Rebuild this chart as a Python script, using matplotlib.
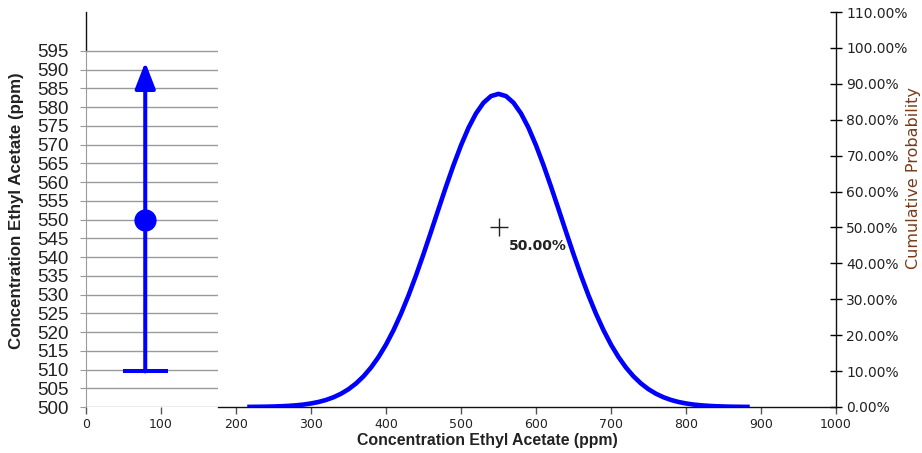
import matplotlib
matplotlib.use("Agg")
import matplotlib.pyplot as plt
from matplotlib.ticker import FuncFormatter

# density curve (x in ppm, y on the right % axis)
curve_x = [215, 220, 230, 240, 250, 260, 270, 280, 290, 300, 310, 320, 330, 340,
           350, 360, 370, 380, 390, 400, 410, 420, 430, 440, 450, 460, 470, 480,
           490, 500, 510, 520, 530, 540, 550, 560, 570, 580, 590, 600, 610, 620,
           630, 640, 650, 660, 670, 680, 690, 700, 710, 720, 730, 740, 750, 760,
           770, 780, 790, 800, 810, 820, 830, 840, 850, 860, 870, 880, 885]
curve_y = [0.03, 0.04, 0.06, 0.09, 0.14, 0.21, 0.32, 0.47, 0.68, 0.99, 1.40, 1.96, 2.71, 3.69,
           4.95, 6.55, 8.54, 10.98, 13.91, 17.37, 21.39, 25.96, 31.06, 36.63, 42.58, 48.80, 55.12, 61.37,
           67.34, 72.87, 77.75, 81.75, 84.73, 86.58, 87.20, 86.58, 84.73, 81.75, 77.75, 72.87, 67.34, 61.37,
           55.12, 48.80, 42.58, 36.63, 31.06, 25.96, 21.39, 17.37, 13.91, 10.98, 8.54, 6.55, 4.95, 3.69,
           2.71, 1.96, 1.40, 0.99, 0.68, 0.47, 0.32, 0.21, 0.14, 0.09, 0.06, 0.04, 0.03]

# summary on the left panel (ppm)
stat_mean = 550
stat_low = 509.5
stat_high = 592

# median marker
median_ppm = 550
median_pct = 50
median_label = "50.00%"

x_ticks = list(range(0, 1001, 100))
pct_ticks = list(range(0, 111, 10))
ppm_ticks = list(range(500, 596, 5))

XLABEL = "Concentration Ethyl Acetate (ppm)"
YLABEL = "Concentration Ethyl Acetate (ppm)"
Y2LABEL = "Cumulative Probability"

W, H = 922, 453
BLUE = "#0000ff"
TXT = "#222222"
GRID = "#9a9a9a"


def box(l, t, r, b):
    """pixel box -> figure fraction rect"""
    return [l / W, 1 - b / H, (r - l) / W, (b - t) / H]


fig = plt.figure(figsize=(W / 100, H / 100), dpi=100)

# --- main axes: curve + right % axis ---
ax = fig.add_axes(box(86, 12, 836, 407))
ax.set_xlim(0, 1000)
ax.set_ylim(0, 110)
ax.plot(curve_x, curve_y, color=BLUE, lw=3.3, solid_capstyle="butt",
        solid_joinstyle="round", zorder=3)
ax.plot(median_ppm, median_pct, marker="+", ms=13, mew=1, color=TXT, zorder=4)
ax.annotate(median_label, (median_ppm, median_pct), xytext=(7.5, -8.5),
            textcoords="offset points", ha="left", va="top", fontsize=10,
            fontweight="bold", family="DejaVu Sans", color=TXT, zorder=4)

ax.set_xticks(x_ticks)
ax.yaxis.tick_right()
ax.set_yticks(pct_ticks)
ax.yaxis.set_major_formatter(FuncFormatter(lambda v, p: f"{v:.2f}%"))
ax.tick_params(axis="y", direction="inout", length=9, width=1, labelsize=10,
               labelcolor=TXT, pad=3)
ax.tick_params(axis="x", direction="out", length=5, width=1, color="#555555",
               labelsize=9, labelcolor=TXT, pad=3)
for lab in ax.get_xticklabels() + ax.get_yticklabels():
    lab.set_family("DejaVu Sans")
ax.spines["top"].set_visible(False)
ax.spines["left"].set_bounds(99.2, 110)
ax.spines["bottom"].set_bounds(176, 1000)
for s in ("left", "bottom", "right"):
    ax.spines[s].set_color("#111111")
    ax.spines[s].set_linewidth(1)

# --- left overlay panel: ppm scale with range arrow ---
ax2 = fig.add_axes(box(86, 12, 218, 407))
ax2.patch.set_alpha(0)
ax2.set_xlim(0, 176)
ax2.set_ylim(500, 605.4)
ax2.set_xticks([])
ax2.set_yticks(ppm_ticks)
ax2.grid(axis="y", color=GRID, lw=1)
ax2.set_axisbelow(True)
for s in ("top", "right", "bottom"):
    ax2.spines[s].set_visible(False)
ax2.spines["left"].set_bounds(500, 595)
ax2.spines["left"].set_color(GRID)
ax2.tick_params(axis="y", length=4.3, color=GRID, labelsize=13.5,
                labelcolor=TXT, pad=8)
for lab in ax2.get_yticklabels():
    lab.set_family("Liberation Sans")

stat_x = 79
ax2.annotate("", xy=(stat_x, stat_high), xytext=(stat_x, stat_low),
             arrowprops=dict(arrowstyle="-|>,head_length=1.6,head_width=0.62",
                             color=BLUE, lw=2.9, shrinkA=0, shrinkB=0,
                             mutation_scale=10))
ax2.plot(stat_x, stat_mean, "o", ms=15, color=BLUE, zorder=4)
ax2.hlines(stat_low, stat_x - 30, stat_x + 30, color=BLUE, lw=2.9, zorder=4)

# --- axis titles ---
fig.text(487 / W, 1 - 441 / H, XLABEL, ha="center", va="center",
         fontsize=11.4, fontweight="bold", family="Liberation Sans", color=TXT)
fig.text(17 / W, 1 - 211 / H, YLABEL, ha="center", va="center", rotation=90,
         fontsize=12.2, fontweight="bold", family="Liberation Sans", color=TXT)
fig.text(913 / W, 1 - 178 / H, Y2LABEL, ha="center", va="center", rotation=90,
         fontsize=11.5, family="DejaVu Sans", color="#7a3b1a")

fig.savefig("out.png", dpi=100)
